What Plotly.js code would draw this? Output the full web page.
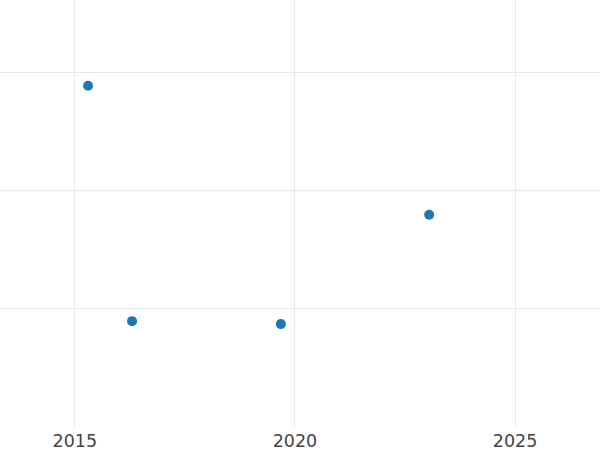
<!DOCTYPE html>
<html>
<head>
<meta charset="utf-8">
<script src="https://cdn.plot.ly/plotly-3.0.1.min.js"></script>
<style>html,body{margin:0;padding:0;background:#fff;}#chart{width:600px;height:450px;}</style>
</head>
<body>
<div id="chart"></div>
<script>
// Data (x in decimal years)
const years = [2015.3, 2016.3, 2019.68, 2023.05];
const values = [28.85, 8.95, 8.7, 17.95];
const xTickVals = [2015, 2020, 2025];
const xTickText = ["2015", "2020", "2025"];

const trace = {
  x: years,
  y: values,
  type: 'scatter',
  mode: 'markers',
  marker: {color: '#1f77b4', size: 10},
  hoverinfo: 'x+y'
};

const layout = {
  width: 600,
  height: 450,
  margin: {l: 0, r: 0, t: 0, b: 23, pad: 0},
  paper_bgcolor: '#fff',
  plot_bgcolor: '#fff',
  font: {family: 'DejaVu Sans, sans-serif', size: 17.5, color: '#444'},
  showlegend: false,
  xaxis: {
    range: [2013.3, 2026.93],
    tickvals: xTickVals,
    ticktext: xTickText,
    showgrid: true,
    gridcolor: '#e9e9e9',
    gridwidth: 1,
    zeroline: false,
    showline: false,
    ticks: '',
    ticklabelstandoff: 1
  },
  yaxis: {
    range: [0, 36.1],
    tickvals: [10, 20, 30],
    showticklabels: false,
    showgrid: true,
    gridcolor: '#e9e9e9',
    gridwidth: 1,
    zeroline: false,
    showline: false,
    ticks: ''
  }
};

Plotly.newPlot('chart', [trace], layout, {displayModeBar: false, staticPlot: true});
</script>
</body>
</html>
